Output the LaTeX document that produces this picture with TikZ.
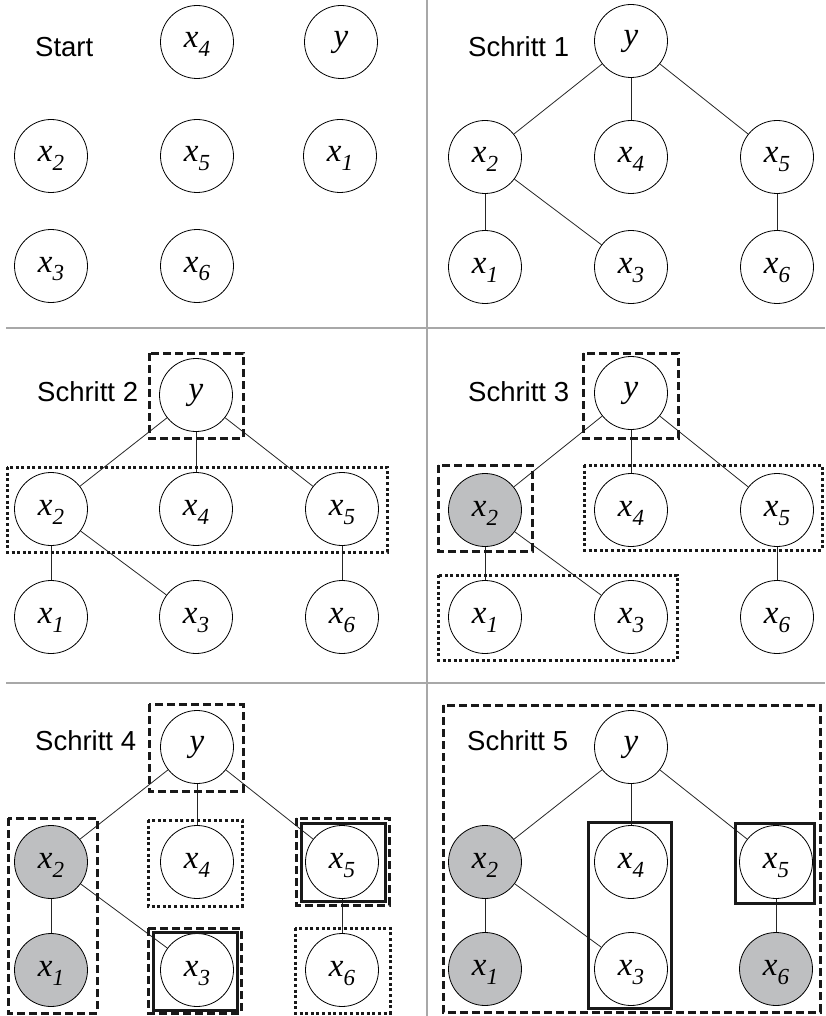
\documentclass[tikz,border=0pt]{standalone}
\usepackage{fontspec}
\setmainfont{Liberation Serif}
\newfontfamily\varfont{Liberation Serif}
\newfontfamily\labelfont{Liberation Sans}
% variable label: italic letter with an italic subscript digit, set a little low in its circle
\newcommand\vx[1]{\raisebox{-3pt}[15pt][9pt]{\varfont\itshape\fontsize{33}{33}\selectfont x\raisebox{-9pt}{\fontsize{23}{23}\selectfont #1}}}
\newcommand\vy{{\varfont\itshape\fontsize{33}{33}\selectfont y}}
\definecolor{nodegray}{RGB}{190,191,193}
\definecolor{rulegray}{RGB}{168,168,168}
\tikzset{
  var/.style={circle, draw=black, line width=0.8pt, minimum size=73pt, inner sep=0pt, fill=white},
  done/.style={var, fill=nodegray},
  link/.style={draw=black!85, line width=0.8pt},
  dashbox/.style={draw=black!90, line width=3pt, dash pattern=on 8pt off 4pt},
  dotbox/.style={draw=black!90, line width=3pt, dash pattern=on 3pt off 2.6pt},
  solidbox/.style={draw=black!90, line width=3pt},
  steplabel/.style={font=\labelfont\fontsize{27.5}{27.5}\selectfont, anchor=base west, inner sep=0pt},
  divider/.style={draw=rulegray, line width=1.5pt}
}
\begin{document}
\begin{tikzpicture}[x=1pt, y=-1pt]
\useasboundingbox (0,0) rectangle (825,1016);

% panel dividers
\draw[divider] (427,0) -- (427,1016);
\draw[divider] (6,328) -- (825,328);
\draw[divider] (6,683) -- (825,683);

% ---------- Start ----------
\node[steplabel] (t0) at (35,57) {Start};
\node[var] (s-x4) at (197,42) {\vx{4}};
\node[var] (s-y)  at (341,42) {\vy};
\node[var] (s-x2) at (51,156) {\vx{2}};
\node[var] (s-x5) at (197,156) {\vx{5}};
\node[var] (s-x1) at (340,156) {\vx{1}};
\node[var] (s-x3) at (51,266) {\vx{3}};
\node[var] (s-x6) at (197,266) {\vx{6}};

% ---------- Schritt 1 ----------
\node[steplabel] (t1) at (468,57) {Schritt 1};
\node[var] (a-y)  at (631,41) {\vy};
\node[var] (a-x2) at (485,157) {\vx{2}};
\node[var] (a-x4) at (631,157) {\vx{4}};
\node[var] (a-x5) at (777,157) {\vx{5}};
\node[var] (a-x1) at (485,267) {\vx{1}};
\node[var] (a-x3) at (631,267) {\vx{3}};
\node[var] (a-x6) at (777,267) {\vx{6}};

% ---------- Schritt 2 ----------
\node[steplabel] (t2) at (37,401) {Schritt 2};
\node[var] (b-y)  at (196,395) {\vy};
\node[var] (b-x2) at (51,509) {\vx{2}};
\node[var] (b-x4) at (196,509) {\vx{4}};
\node[var] (b-x5) at (342,509) {\vx{5}};
\node[var] (b-x1) at (51,617) {\vx{1}};
\node[var] (b-x3) at (196,617) {\vx{3}};
\node[var] (b-x6) at (342,617) {\vx{6}};

% ---------- Schritt 3 ----------
\node[steplabel] (t3) at (468,401) {Schritt 3};
\node[var]  (c-y)  at (631,393) {\vy};
\node[done] (c-x2) at (485,510) {\vx{2}};
\node[var]  (c-x4) at (631,510) {\vx{4}};
\node[var]  (c-x5) at (777,510) {\vx{5}};
\node[var]  (c-x1) at (485,617) {\vx{1}};
\node[var]  (c-x3) at (631,617) {\vx{3}};
\node[var]  (c-x6) at (777,617) {\vx{6}};

% ---------- Schritt 4 ----------
\node[steplabel] (t4) at (35,750) {Schritt 4};
\node[var]  (d-y)  at (197,747) {\vy};
\node[done] (d-x2) at (51,862) {\vx{2}};
\node[var]  (d-x4) at (197,862) {\vx{4}};
\node[var]  (d-x5) at (342,862) {\vx{5}};
\node[done] (d-x1) at (51,970) {\vx{1}};
\node[var]  (d-x3) at (197,970) {\vx{3}};
\node[var]  (d-x6) at (342,970) {\vx{6}};

% ---------- Schritt 5 ----------
\node[steplabel] (t5) at (467,750) {Schritt 5};
\node[var]  (e-y)  at (631,747) {\vy};
\node[done] (e-x2) at (485,862) {\vx{2}};
\node[var]  (e-x4) at (631,862) {\vx{4}};
\node[var]  (e-x5) at (776,862) {\vx{5}};
\node[done] (e-x1) at (485,969) {\vx{1}};
\node[var]  (e-x3) at (631,969) {\vx{3}};
\node[done] (e-x6) at (776,969) {\vx{6}};

% tree edges, same in every step
\foreach \p in {a,b,c,d,e}{
  \draw[link] (\p-y) -- (\p-x2);
  \draw[link] (\p-y) -- (\p-x4);
  \draw[link] (\p-y) -- (\p-x5);
  \draw[link] (\p-x2) -- (\p-x1);
  \draw[link] (\p-x2) -- (\p-x3);
  \draw[link] (\p-x5) -- (\p-x6);
}

% Schritt 2 groups
\draw[dashbox] (149,353) rectangle (243,438);
\draw[dotbox]  (7,467) rectangle (387,552);

% Schritt 3 groups
\draw[dashbox] (583,353) rectangle (678,438);
\draw[dashbox] (438,465) rectangle (532,551);
\draw[dotbox]  (584,465) rectangle (822,550);
\draw[dotbox]  (438,575) rectangle (677,660);

% Schritt 4 groups
\draw[dashbox]  (149,704) rectangle (243,791);
\draw[dashbox]  (8,818) rectangle (97,1013);
\draw[dotbox]   (148,820) rectangle (242,906);
\draw[dashbox]  (296,818) rectangle (389,905);
\draw[solidbox] (301,823) rectangle (385,901);
\draw[dashbox]  (148,928) rectangle (241,1013);
\draw[solidbox] (153,932) rectangle (237,1010);
\draw[dotbox]   (295,928) rectangle (390,1013);

% Schritt 5 groups
\draw[dashbox]  (443,705) rectangle (820,1012);
\draw[solidbox] (588,822) rectangle (671,1008);
\draw[solidbox] (735,823) rectangle (814,903);
\end{tikzpicture}
\end{document}
